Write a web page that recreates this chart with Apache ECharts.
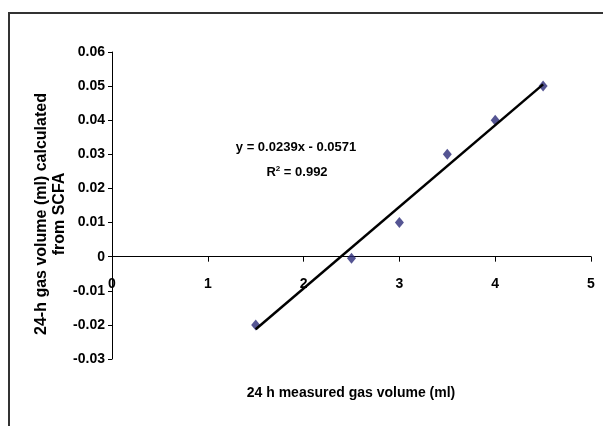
<!DOCTYPE html>
<html><head><meta charset="utf-8">
<script src="https://cdn.jsdelivr.net/npm/echarts@6/dist/echarts.min.js"></script>
<style>html,body{margin:0;padding:0;background:#fff}#c{width:603px;height:426px}</style>
</head><body><div id="c"></div>
<script>
const measuredGas = [1.5, 2.5, 3, 3.5, 4, 4.5];
const calculatedGas = [-0.02, -0.0005, 0.01, 0.03, 0.04, 0.05];
const trendX = [1.5, 4.5];
const trendY = [-0.0213, 0.0505];
const xTicks = [0, 1, 2, 3, 4, 5];
const yTicks = [-0.03, -0.02, -0.01, 0, 0.01, 0.02, 0.03, 0.04, 0.05, 0.06];
const equationText = 'y = 0.0239x - 0.0571';
const r2Value = '0.992';
const xTitle = '24 h measured gas volume (ml)';
const yTitle = '24-h gas volume (ml) calculated\nfrom SCFA';

const gridTop = 52, gridBottom = 67, H = 426;
const plotH = H - gridTop - gridBottom;
const yMin = yTicks[0], yMax = yTicks[yTicks.length - 1];
// shift x axis so it sits on y = 0 (labels follow the line)
const zeroOffset = -plotH * (0 - yMin) / (yMax - yMin);

const chart = echarts.init(document.getElementById('c'), null, {renderer: 'canvas'});
const sans = '"Liberation Sans", Arial, sans-serif';
chart.setOption({
  animation: false,
  backgroundColor: '#fff',
  grid: {left: 112, right: 12, top: gridTop, bottom: gridBottom, containLabel: false},
  xAxis: {
    type: 'value', min: xTicks[0], max: xTicks[xTicks.length - 1], interval: 1,
    offset: zeroOffset,
    axisLine: {onZero: false, lineStyle: {color: '#000', width: 1}},
    axisTick: {show: true, inside: false, length: 5, lineStyle: {color: '#000'}},
    axisLabel: {margin: 20, color: '#000', fontFamily: sans, fontWeight: 'bold', fontSize: 14},
    splitLine: {show: false}
  },
  yAxis: {
    type: 'value', min: yMin, max: yMax, interval: 0.01,
    axisLine: {show: true, onZero: false, lineStyle: {color: '#000', width: 1}},
    axisTick: {show: true, inside: false, length: 4, lineStyle: {color: '#000'}},
    axisLabel: {margin: 7, color: '#000', fontFamily: sans, fontWeight: 'bold', fontSize: 14,
      formatter: v => String(Math.round(v * 100) / 100)},
    splitLine: {show: false}
  },
  series: [
    {
      type: 'scatter', symbol: 'diamond', symbolSize: [9, 11],
      itemStyle: {color: '#2a2a78'},
      data: measuredGas.map((x, i) => [x, calculatedGas[i]]), z: 3
    },
    {
      type: 'line', symbol: 'none', lineStyle: {color: '#000', width: 2.5},
      data: trendX.map((x, i) => [x, trendY[i]]), z: 4
    }
  ],
  graphic: [
    {type: 'rect', shape: {x: 9, y: 13, width: 700, height: 500}, style: {fill: 'none', stroke: '#333', lineWidth: 2}, z: 0},
    {type: 'text', x: 296, y: 147, style: {text: equationText, align: 'center', verticalAlign: 'middle',
      font: 'bold 13px ' + sans, fill: '#000'}},
    {type: 'text', x: 297, y: 172, style: {
      text: '{b|R}{s|2}{b| = ' + r2Value + '}', align: 'center', verticalAlign: 'middle',
      rich: {b: {font: 'bold 13px ' + sans, fill: '#000'}, s: {font: 'bold 8px ' + sans, fill: '#000', verticalAlign: 'top', padding: [0,0,6,0]}}
    }},
    {type: 'text', x: 351, y: 393, style: {text: xTitle, align: 'center', verticalAlign: 'middle',
      font: 'bold 14px ' + sans, fill: '#000'}},
    {type: 'text', x: 51, y: 214, rotation: Math.PI / 2, style: {text: yTitle, align: 'center', verticalAlign: 'middle',
      font: 'bold 16px ' + sans, fill: '#000', lineHeight: 18}}
  ]
});
</script></body></html>
